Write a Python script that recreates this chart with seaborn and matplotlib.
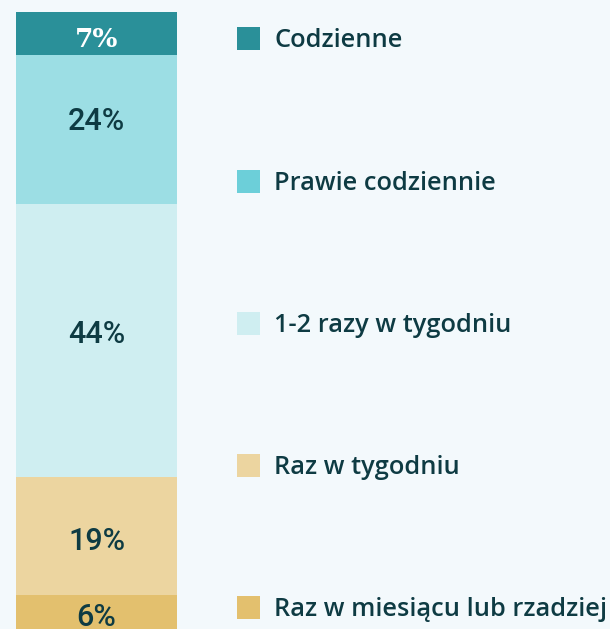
import pandas as pd
import matplotlib.pyplot as plt
import seaborn as sns
from matplotlib.patches import Rectangle

# dane
kategorie = ['Codzienne', 'Prawie codziennie', '1-2 razy w tygodniu',
             'Raz w tygodniu', 'Raz w miesiącu lub rzadziej']
procenty = [7, 24, 44, 19, 6]
kolory = ['#2A9099', '#9CDEE4', '#CFEEF1', '#ECD5A0', '#E3C06E']
kolory_legendy = ['#2A9099', '#6CCFD9', '#CFEEF1', '#ECD5A0', '#E3C06E']
kolory_tekstu = ['white', '#0E3B43', '#0E3B43', '#0E3B43', '#0E3B43']

tlo = '#F3F9FC'
ciemny = '#0E3B43'
df = pd.DataFrame({'kategoria': kategorie, 'procent': procenty})
df['start'] = df['procent'].cumsum() - df['procent']
df['x'] = 'wszyscy'

# przesuniecie linii bazowej etykiet (piksele w dol od srodka segmentu)
przesuniecia = [13, 0, 2, 14, 13]

fig = plt.figure(figsize=(6.10, 6.29), dpi=100, facecolor=tlo)
ax = fig.add_axes([16 / 610, -3 / 629, 161 / 610, 620 / 629])
ax.set_facecolor(tlo)

for i, row in df.iterrows():
    sns.barplot(data=df.iloc[[i]], x='x', y='procent', bottom=row['start'],
                color=kolory[i], width=1, saturation=1, ax=ax, linewidth=0)
    srodek = row['start'] + row['procent'] / 2
    if i == 0:
        czcionka = dict(family='DejaVu Serif', fontsize=19, fontweight='bold')
    else:
        czcionka = dict(family='Roboto', fontsize=22, fontweight='medium')
    ax.annotate(f"{row['procent']}%", (0, srodek), xytext=(0, -przesuniecia[i]),
                textcoords='offset pixels', ha='center', va='baseline',
                color=kolory_tekstu[i], annotation_clip=False, **czcionka)

ax.set_xlim(-0.5, 0.5)
ax.set_ylim(100, 0)
ax.axis('off')

# legenda po prawej
H = 629
W = 610
srodki_legendy = [38, 181, 323, 465, 607]
for k, n, yc in zip(kolory_legendy, kategorie, srodki_legendy):
    fig.add_artist(Rectangle((237 / W, 1 - (yc + 11.5) / H), 23 / W, 23 / H,
                             transform=fig.transFigure, facecolor=k, edgecolor='none'))
    fig.text(274 / W, 1 - (yc + 9) / H, n, ha='left', va='baseline', color=ciemny,
             family='Open Sans', fontsize=18.3, fontweight='semibold')

fig.savefig('out.png', dpi=100, facecolor=tlo)
